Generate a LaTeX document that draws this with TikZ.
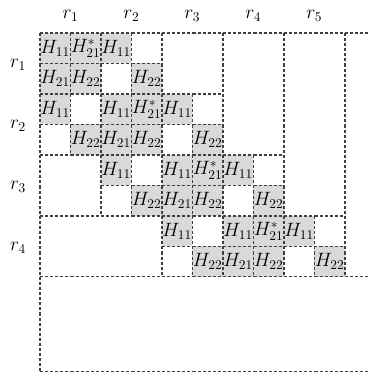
\documentclass[tikz,border=0pt]{standalone}
\usetikzlibrary{positioning}

\begin{document}
\begin{tikzpicture}[
    x=0.8cm, y=-0.8cm,
    gridline/.style={draw=black!75, line width=0.9pt, dash pattern=on 2.3pt off 1.494pt},
    hcell/.style={fill=gray!30, minimum size=0.8cm, inner sep=0pt, font=\Large},
    rlabel/.style={font=\Large, inner sep=1pt}
]
    \useasboundingbox (-1.31,-1.08) rectangle (10.82,11.25);

    % --- BLOCK ROW r1 ---
    \node[hcell] (a11) at (0.5,0.5) {$H_{11}$};
    \node[hcell] (a12) at (1.5,0.5) {$H^{*}_{21}$};
    \node[hcell] (a13) at (2.5,0.5) {$H_{11}$};
    \node[hcell] (a21) at (0.5,1.5) {$H_{21}$};
    \node[hcell] (a22) at (1.5,1.5) {$H_{22}$};
    \node[hcell] (a24) at (3.5,1.5) {$H_{22}$};

    % --- BLOCK ROW r2 ---
    \node[hcell] (b11) at (0.5,2.5) {$H_{11}$};
    \node[hcell] (b13) at (2.5,2.5) {$H_{11}$};
    \node[hcell] (b14) at (3.5,2.5) {$H^{*}_{21}$};
    \node[hcell] (b15) at (4.5,2.5) {$H_{11}$};
    \node[hcell] (b22) at (1.5,3.5) {$H_{22}$};
    \node[hcell] (b23) at (2.5,3.5) {$H_{21}$};
    \node[hcell] (b24) at (3.5,3.5) {$H_{22}$};
    \node[hcell] (b26) at (5.5,3.5) {$H_{22}$};

    % --- BLOCK ROW r3 ---
    \node[hcell] (c13) at (2.5,4.5) {$H_{11}$};
    \node[hcell] (c15) at (4.5,4.5) {$H_{11}$};
    \node[hcell] (c16) at (5.5,4.5) {$H^{*}_{21}$};
    \node[hcell] (c17) at (6.5,4.5) {$H_{11}$};
    \node[hcell] (c24) at (3.5,5.5) {$H_{22}$};
    \node[hcell] (c25) at (4.5,5.5) {$H_{21}$};
    \node[hcell] (c26) at (5.5,5.5) {$H_{22}$};
    \node[hcell] (c28) at (7.5,5.5) {$H_{22}$};

    % --- BLOCK ROW r4 ---
    \node[hcell] (d15) at (4.5,6.5) {$H_{11}$};
    \node[hcell] (d17) at (6.5,6.5) {$H_{11}$};
    \node[hcell] (d18) at (7.5,6.5) {$H^{*}_{21}$};
    \node[hcell] (d19) at (8.5,6.5) {$H_{11}$};
    \node[hcell] (d26) at (5.5,7.5) {$H_{22}$};
    \node[hcell] (d27) at (6.5,7.5) {$H_{21}$};
    \node[hcell] (d28) at (7.5,7.5) {$H_{22}$};
    \node[hcell] (d30) at (9.5,7.5) {$H_{22}$};

    % --- DASHED GRID: horizontal segments ---
    \draw[gridline]
        (0,0) -- (10.82,0)  (0,1) -- (4,1)  (0,2) -- (6,2)  (0,3) -- (6,3)
        (0,4) -- (8,4)      (2,5) -- (8,5)  (0,6) -- (10,6) (4,7) -- (10,7)
        (0,8) -- (10.82,8)  (0,11.1) -- (10.82,11.1);

    % --- DASHED GRID: vertical segments ---
    \draw[gridline]
        (0,0) -- (0,11.1)  (1,0) -- (1,4)  (2,0) -- (2,6)  (3,0) -- (3,6)
        (4,0) -- (4,8)     (5,2) -- (5,8)  (6,0) -- (6,8)  (7,4) -- (7,8)
        (8,0) -- (8,8)     (9,6) -- (9,8)  (10,0) -- (10,8);

    % --- ROW / COLUMN LABELS ---
    \node[rlabel] (top1) at (1,-0.55) {$r_{1}$};
    \node[rlabel] (top2) at (3,-0.55) {$r_{2}$};
    \node[rlabel] (top3) at (5,-0.55) {$r_{3}$};
    \node[rlabel] (top4) at (7,-0.55) {$r_{4}$};
    \node[rlabel] (top5) at (9,-0.55) {$r_{5}$};
    \node[rlabel] (left1) at (-0.72,1.05) {$r_{1}$};
    \node[rlabel] (left2) at (-0.72,3.05) {$r_{2}$};
    \node[rlabel] (left3) at (-0.72,5.05) {$r_{3}$};
    \node[rlabel] (left4) at (-0.72,7.05) {$r_{4}$};

\end{tikzpicture}
\end{document}
